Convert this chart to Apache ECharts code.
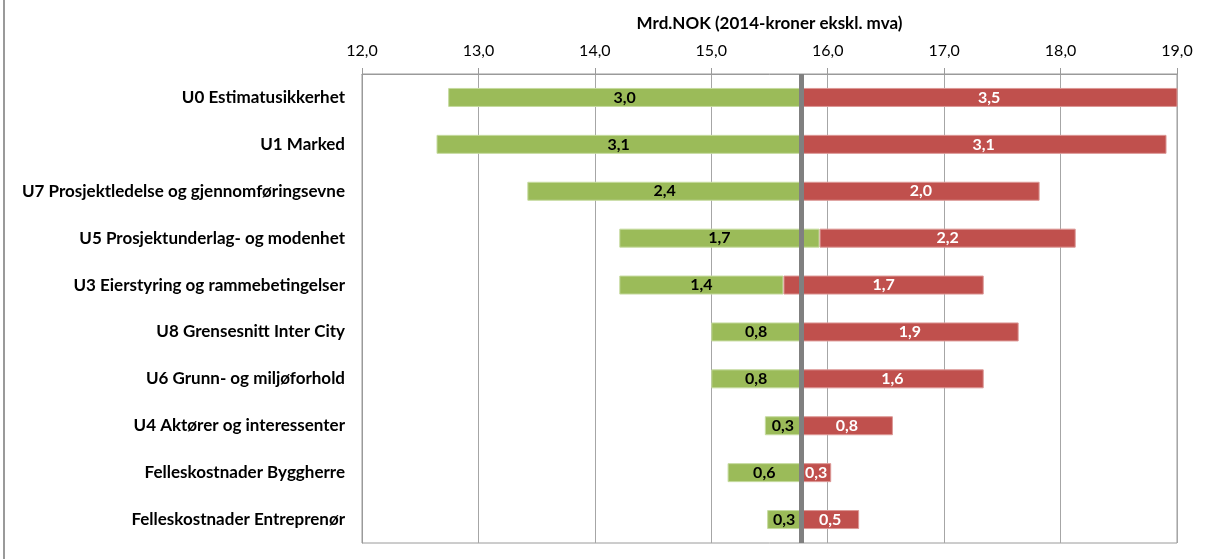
<!DOCTYPE html>
<html>
<head>
<meta charset="utf-8">
<script src="https://cdn.jsdelivr.net/npm/echarts@6/dist/echarts.min.js"></script>
<style>
html,body{margin:0;padding:0;background:#fff;}
#frame{position:absolute;left:3px;top:0;width:2px;height:559px;background:#9a9a9a;}
#chart{position:absolute;left:0;top:0;width:1205px;height:559px;}
</style>
</head>
<body>
<div id="frame"></div>
<div id="chart"></div>
<script>
const categories = [
  "U0 Estimatusikkerhet",
  "U1 Marked",
  "U7 Prosjektledelse og gjennomføringsevne",
  "U5 Prosjektunderlag- og modenhet",
  "U3 Eierstyring og rammebetingelser",
  "U8 Grensesnitt Inter City",
  "U6 Grunn- og miljøforhold",
  "U4 Aktører og interessenter",
  "Felleskostnader Byggherre",
  "Felleskostnader Entreprenør"
];
// left end of each bar (Mrd. NOK)
const lowStart = [12.74, 12.64, 13.42, 14.21, 14.21, 15.00, 15.00, 15.46, 15.14, 15.48];
// green segment (downside)
const downside = [3.03, 3.13, 2.36, 1.72, 1.41, 0.77, 0.77, 0.31, 0.63, 0.29];
// red segment (upside)
const upside = [3.5, 3.14, 2.04, 2.2, 1.72, 1.87, 1.57, 0.79, 0.26, 0.5];
const baseline = 15.77;
const axisMin = 12, axisMax = 19, axisStep = 1;
const axisTitle = "Mrd.NOK (2014-kroner ekskl. mva)";

const FONT = "Lato, 'Open Sans', sans-serif";
const fmt = v => Number(v).toFixed(1).replace('.', ',');

const chart = echarts.init(document.getElementById('chart'), null, {renderer:'canvas'});
chart.setOption({
  animation:false,
  backgroundColor:'transparent',
  grid:{left:362, right:28, top:74, bottom:16, show:true, borderColor:'#9a9a9a', borderWidth:1, backgroundColor:'transparent'},
  xAxis:{
    type:'value', position:'top', min:axisMin, max:axisMax, interval:axisStep,
    name:axisTitle, nameLocation:'middle', nameGap:42,
    nameTextStyle:{fontFamily:FONT, fontWeight:'bold', fontSize:17, color:'#000'},
    axisLine:{show:true, lineStyle:{color:'#9a9a9a', width:1}},
    axisTick:{show:true, length:6, lineStyle:{color:'#9a9a9a'}},
    axisLabel:{formatter:v=>fmt(v), fontFamily:FONT, fontSize:16, color:'#000', margin:15},
    splitLine:{show:true, lineStyle:{color:'#a6a6a6', width:1}}
  },
  yAxis:{
    type:'category', data:categories, inverse:true,
    axisLine:{show:true, lineStyle:{color:'#9a9a9a'}},
    axisTick:{show:false},
    axisLabel:{fontFamily:FONT, fontWeight:'bold', fontSize:17, color:'#000', margin:17},
    splitLine:{show:false}
  },
  series:[
    {name:'base', type:'bar', stack:'t', data:lowStart, barWidth:19, silent:true,
     itemStyle:{color:'transparent'}, label:{show:false}},
    {name:'Ned', type:'bar', stack:'t', data:downside, barWidth:19,
     itemStyle:{color:'#9BBB59', borderColor:'#c6dba0', borderWidth:1},
     label:{show:true, position:'inside', formatter:p=>fmt(p.value), color:'#000', fontFamily:FONT, fontWeight:'bold', fontSize:16}},
    {name:'Opp', type:'bar', stack:'t', data:upside, barWidth:19,
     itemStyle:{color:'#C0504D', borderColor:'#dc9896', borderWidth:1},
     label:{show:true, position:'inside', formatter:p=>fmt(p.value), color:'#fff', fontFamily:FONT, fontWeight:'bold', fontSize:16},
     markLine:{silent:true, symbol:['none','none'], label:{show:false},
       lineStyle:{color:'#808080', width:5, type:'solid'},
       data:[{xAxis:baseline}]}}
  ]
});
</script>
</body>
</html>
